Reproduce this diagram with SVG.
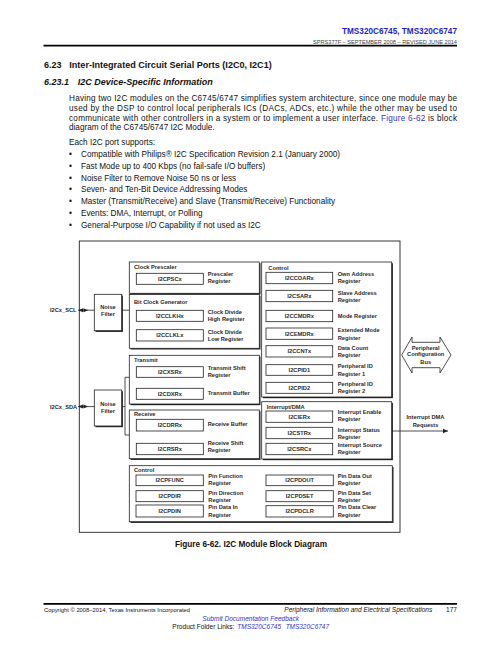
<svg xmlns="http://www.w3.org/2000/svg" width="502" height="649" viewBox="0 0 502 649">
<style>
  .body{font-family:"Liberation Sans",Arial,sans-serif;font-size:8.2px;fill:#111}
  .link{fill:#3333cc}
  .h{font-family:"Liberation Sans",Arial,sans-serif;font-weight:bold;fill:#111}
  .t{font-family:"Liberation Sans",Arial,sans-serif;font-weight:bold;font-size:5.7px;fill:#2a2a2a}
  .c{text-anchor:middle}
  .grp{fill:#fff;stroke:#222;stroke-width:0.8}
  .sh{fill:#222}
  .reg{fill:#fff;stroke:#222;stroke-width:0.8}
  .ln{fill:none;stroke:#222;stroke-width:0.8}
  .foot{font-family:"Liberation Sans",Arial,sans-serif;fill:#111}
</style>
<defs>
  <marker id="ah" markerWidth="6" markerHeight="6" refX="5" refY="3" orient="auto" markerUnits="userSpaceOnUse">
    <path d="M0,0.8 L5,3 L0,5.2 Z" fill="#222"/>
  </marker>
</defs>
<rect width="502" height="649" fill="#fff"/>

<!-- page header -->
<text x="457" y="33.6" class="h" font-size="9.4" text-anchor="end" style="fill:#1e1ecf" textLength="115" lengthAdjust="spacingAndGlyphs">TMS320C6745, TMS320C6747</text>
<text x="457" y="43.8" class="foot" font-size="5.2" text-anchor="end" textLength="144" lengthAdjust="spacingAndGlyphs" style="fill:#444">SPRS377F – SEPTEMBER 2008 – REVISED JUNE 2014</text>
<line x1="43.5" y1="45.6" x2="457" y2="45.6" stroke="#000" stroke-width="1.7"/>

<!-- headings -->
<text x="44" y="68.4" class="h" font-size="9">6.23</text>
<text x="69.3" y="68.4" class="h" font-size="9" textLength="202.4" lengthAdjust="spacingAndGlyphs">Inter-Integrated Circuit Serial Ports (I2C0, I2C1)</text>
<text x="44" y="85.4" class="h" font-size="9" font-style="italic">6.23.1</text>
<text x="77.7" y="85.4" class="h" font-size="9" font-style="italic" textLength="135" lengthAdjust="spacingAndGlyphs">I2C Device-Specific Information</text>

<!-- paragraph -->
<text x="69" y="101.3" class="body" textLength="388" lengthAdjust="spacing">Having two I2C modules on the C6745/6747 simplifies system architecture, since one module may be</text>
<text x="69" y="111.3" class="body" textLength="388" lengthAdjust="spacing">used by the DSP to control local peripherals ICs (DACs, ADCs, etc.) while the other may be used to</text>
<text x="69" y="121.3" class="body" textLength="388" lengthAdjust="spacing">communicate with other controllers in a system or to implement a user interface. <tspan class="link">Figure 6-62</tspan> is block</text>
<text x="69" y="130.3" class="body">diagram of the C6745/6747 I2C Module.</text>

<text x="69" y="145.3" class="body">Each I2C port supports:</text>
<g class="body">
  <text x="69" y="157.3">•</text><text x="81" y="157.3" class="body">Compatible with Philips® I2C Specification Revision 2.1 (January 2000)</text>
  <text x="69" y="169">•</text><text x="81" y="169" class="body">Fast Mode up to 400 Kbps (no fail-safe I/O buffers)</text>
  <text x="69" y="181">•</text><text x="81" y="181" class="body">Noise Filter to Remove Noise 50 ns or less</text>
  <text x="69" y="192.3">•</text><text x="81" y="192.3" class="body">Seven- and Ten-Bit Device Addressing Modes</text>
  <text x="69" y="204.3">•</text><text x="81" y="204.3" class="body">Master (Transmit/Receive) and Slave (Transmit/Receive) Functionality</text>
  <text x="69" y="216">•</text><text x="81" y="216" class="body">Events: DMA, Interrupt, or Polling</text>
  <text x="69" y="228.3">•</text><text x="81" y="228.3" class="body">General-Purpose I/O Capability if not used as I2C</text>
</g>

<!-- diagram -->
<g id="module">
  <rect x="79.3" y="241" width="320.7" height="291.3" fill="none" stroke="#222" stroke-width="0.9"/>
</g>

<g id="connectors">
  <line class="ln" x1="78" y1="310.2" x2="94.3" y2="310.2"/>
  <path d="M78.2,310.2 L83,308.2 L83,312.2 Z M88.2,310.2 L83.4,308.2 L83.4,312.2 Z" fill="#222"/>
  <line class="ln" x1="121.7" y1="310.2" x2="129.3" y2="310.2"/>
  <line class="ln" x1="78" y1="406.6" x2="94.3" y2="406.6"/>
  <path d="M78.2,406.6 L83,404.6 L83,408.6 Z M88.2,406.6 L83.4,404.6 L83.4,408.6 Z" fill="#222"/>
  <path class="ln" d="M121.7,406.6 H125 M129.3,377.3 H125 V435 H129.3"/>
  <line class="ln" x1="391.7" y1="431" x2="448" y2="431" marker-end="url(#ah)"/>
  <polygon points="170,377.3 176.5,382.7 174,382.7 174,388.3 166,388.3 166,382.7 163.5,382.7" fill="#fff" stroke="#222" stroke-width="0.7"/>
  <polygon points="170,431 176.5,436.4 174,436.4 174,443.3 166,443.3 166,436.4 163.5,436.4" fill="#fff" stroke="#222" stroke-width="0.7"/>
</g>

<g id="pins">
  <text x="50" y="312.3" class="t">I2Cx_SCL</text>
  <text x="50" y="408.7" class="t">I2Cx_SDA</text>
</g>

<g id="noise-filter-scl">
  <rect class="sh" x="95.5" y="295.5" width="27.4" height="36.4"/>
  <rect class="grp" x="94.3" y="294.3" width="27.4" height="36.4"/>
  <text x="108" y="308.8" class="t c">Noise</text>
  <text x="108" y="316.4" class="t c">Filter</text>
</g>
<g id="noise-filter-sda">
  <rect class="sh" x="95.5" y="391.2" width="27.4" height="36"/>
  <rect class="grp" x="94.3" y="390" width="27.4" height="36"/>
  <text x="108" y="406.1" class="t c">Noise</text>
  <text x="108" y="413.4" class="t c">Filter</text>
</g>

<g id="clock-prescaler">
  <rect class="sh" x="130.5" y="263.2" width="130" height="31.3"/>
  <rect class="grp" x="129.3" y="262" width="130" height="31.3"/>
  <text x="134" y="269" class="t">Clock Prescaler</text>
  <rect class="reg" x="136.3" y="273.3" width="67" height="11"/>
  <text x="169.8" y="280.8" class="t c">I2CPSCx</text>
  <text x="207.7" y="276" class="t">Prescaler</text>
  <text x="207.7" y="283.3" class="t">Register</text>
</g>

<g id="bit-clock-generator">
  <rect class="sh" x="130.5" y="295.7" width="130" height="53.8"/>
  <rect class="grp" x="129.3" y="294.5" width="130" height="53.8"/>
  <text x="134" y="304" class="t">Bit Clock Generator</text>
  <rect class="reg" x="136.3" y="310.3" width="67" height="11"/>
  <text x="169.8" y="317.8" class="t c">I2CCLKHx</text>
  <text x="207.7" y="314" class="t">Clock Divide</text>
  <text x="207.7" y="321.2" class="t">High Register</text>
  <rect class="reg" x="136.3" y="329.7" width="67" height="11.3"/>
  <text x="169.8" y="337.4" class="t c">I2CCLKLx</text>
  <text x="207.7" y="334" class="t">Clock Divide</text>
  <text x="207.7" y="341.2" class="t">Low Register</text>
</g>

<g id="transmit">
  <rect class="sh" x="130.5" y="356.5" width="130" height="48.7"/>
  <rect class="grp" x="129.3" y="355.3" width="130" height="48.7"/>
  <text x="134" y="362" class="t">Transmit</text>
  <rect class="reg" x="136.3" y="366.7" width="67" height="10.6"/>
  <text x="169.8" y="374" class="t c">I2CXSRx</text>
  <text x="207.7" y="369.8" class="t">Transmit Shift</text>
  <text x="207.7" y="377.1" class="t">Register</text>
  <rect class="reg" x="136.3" y="388.3" width="67" height="11"/>
  <text x="169.8" y="395.8" class="t c">I2CDXRx</text>
  <text x="207.7" y="395.4" class="t">Transmit Buffer</text>
</g>

<g id="receive">
  <rect class="sh" x="130.5" y="411.2" width="130" height="48.7"/>
  <rect class="grp" x="129.3" y="410" width="130" height="48.7"/>
  <text x="134" y="416.2" class="t">Receive</text>
  <rect class="reg" x="136.3" y="419.3" width="67" height="11.7"/>
  <text x="169.8" y="427.2" class="t c">I2CDRRx</text>
  <text x="207.7" y="426.1" class="t">Receive Buffer</text>
  <rect class="reg" x="136.3" y="443.3" width="67" height="11.4"/>
  <text x="169.8" y="451" class="t c">I2CRSRx</text>
  <text x="207.7" y="445.1" class="t">Receive Shift</text>
  <text x="207.7" y="452.2" class="t">Register</text>
</g>

<g id="control-registers">
  <rect class="sh" x="262.9" y="263.2" width="130" height="135"/>
  <rect class="grp" x="261.7" y="262" width="130" height="135"/>
  <text x="268.3" y="269.7" class="t">Control</text>
  <rect class="reg" x="266" y="272.3" width="66.7" height="11.4"/>
  <text x="299.3" y="280" class="t c">I2CCOARx</text>
  <text x="337.7" y="276" class="t">Own Address</text>
  <text x="337.7" y="283.3" class="t">Register</text>
  <rect class="reg" x="266" y="290.3" width="66.7" height="11.4"/>
  <text x="299.3" y="298" class="t c">I2CSARx</text>
  <text x="337.7" y="294.7" class="t">Slave Address</text>
  <text x="337.7" y="302.3" class="t">Register</text>
  <rect class="reg" x="266" y="310.3" width="66.7" height="11.4"/>
  <text x="299.3" y="318" class="t c">I2CCMDRx</text>
  <text x="337.7" y="318" class="t">Mode Register</text>
  <rect class="reg" x="266" y="328" width="66.7" height="11.3"/>
  <text x="299.3" y="335.7" class="t c">I2CEMDRx</text>
  <text x="337.7" y="332" class="t">Extended Mode</text>
  <text x="337.7" y="339.7" class="t">Register</text>
  <rect class="reg" x="266" y="345.7" width="66.7" height="11.3"/>
  <text x="299.3" y="353.4" class="t c">I2CCNTx</text>
  <text x="337.7" y="350" class="t">Data Count</text>
  <text x="337.7" y="357.3" class="t">Register</text>
  <rect class="reg" x="266" y="364.7" width="66.7" height="10.6"/>
  <text x="299.3" y="372" class="t c">I2CPID1</text>
  <text x="337.7" y="368" class="t">Peripheral ID</text>
  <text x="337.7" y="376" class="t">Register 1</text>
  <rect class="reg" x="266" y="382.3" width="66.7" height="11"/>
  <text x="299.3" y="389.8" class="t c">I2CPID2</text>
  <text x="337.7" y="386" class="t">Peripheral ID</text>
  <text x="337.7" y="393" class="t">Register 2</text>
</g>

<g id="interrupt-dma">
  <rect class="sh" x="262.9" y="402.9" width="130" height="57.3"/>
  <rect class="grp" x="261.7" y="401.7" width="130" height="57.3"/>
  <text x="266.7" y="409.3" class="t">Interrupt/DMA</text>
  <rect class="reg" x="266" y="411" width="66.7" height="11.3"/>
  <text x="299.3" y="418.7" class="t c">I2CIERx</text>
  <text x="337.7" y="414.3" class="t">Interrupt Enable</text>
  <text x="337.7" y="421.3" class="t">Register</text>
  <rect class="reg" x="266" y="427.3" width="66.7" height="11.4"/>
  <text x="299.3" y="435" class="t c">I2CSTRx</text>
  <text x="337.7" y="432" class="t">Interrupt Status</text>
  <text x="337.7" y="439" class="t">Register</text>
  <rect class="reg" x="266" y="443.3" width="66.7" height="11.4"/>
  <text x="299.3" y="451" class="t c">I2CSRCx</text>
  <text x="337.7" y="447" class="t">Interrupt Source</text>
  <text x="337.7" y="454" class="t">Register</text>
</g>

<g id="pin-control">
  <rect class="sh" x="130.5" y="466.9" width="263" height="56"/>
  <rect class="grp" x="129.3" y="465.7" width="263" height="56"/>
  <text x="134" y="472" class="t">Control</text>
  <rect class="reg" x="136" y="475" width="67.3" height="10.7"/>
  <text x="169.7" y="482.4" class="t c">I2CPFUNC</text>
  <text x="208.3" y="478" class="t">Pin Function</text>
  <text x="208.3" y="485.3" class="t">Register</text>
  <rect class="reg" x="136" y="490.7" width="67.3" height="11"/>
  <text x="169.7" y="498.2" class="t c">I2CPDIR</text>
  <text x="208.3" y="495" class="t">Pin Direction</text>
  <text x="208.3" y="502" class="t">Register</text>
  <rect class="reg" x="136" y="505" width="67.3" height="12"/>
  <text x="169.7" y="513" class="t c">I2CPDIN</text>
  <text x="208.3" y="509.3" class="t">Pin Data In</text>
  <text x="208.3" y="517.3" class="t">Register</text>
  <rect class="reg" x="266" y="475" width="67.3" height="10.7"/>
  <text x="299.7" y="482.4" class="t c">I2CPDOUT</text>
  <text x="337.7" y="478" class="t">Pin Data Out</text>
  <text x="337.7" y="485.3" class="t">Register</text>
  <rect class="reg" x="266" y="490.7" width="67.3" height="11"/>
  <text x="299.7" y="498.2" class="t c">I2CPDSET</text>
  <text x="337.7" y="495" class="t">Pin Data Set</text>
  <text x="337.7" y="502" class="t">Register</text>
  <rect class="reg" x="266" y="505.7" width="67.3" height="11.3"/>
  <text x="299.7" y="513.4" class="t c">I2CPDCLR</text>
  <text x="337.7" y="509.3" class="t">Pin Data Clear</text>
  <text x="337.7" y="517.3" class="t">Register</text>
</g>

<g id="peripheral-configuration-bus">
  <polygon points="401.7,355 412,337 412,342.3 440,342.3 440,337 451,355 440,373 440,367.7 412,367.7 412,373" fill="#fff" stroke="#222" stroke-width="0.8"/>
  <text x="425.7" y="350" class="t c">Peripheral</text>
  <text x="425.7" y="356.4" class="t c">Configuration</text>
  <text x="425.7" y="363.8" class="t c">Bus</text>
</g>

<g id="interrupt-dma-requests">
  <text x="425.5" y="419.4" class="t c">Interrupt DMA</text>
  <text x="425.5" y="427" class="t c">Requests</text>
</g>

<text x="251" y="546.6" class="h c" font-size="9" textLength="152" lengthAdjust="spacingAndGlyphs">Figure 6-62. I2C Module Block Diagram</text>

<!-- footer -->
<line x1="43.5" y1="603.8" x2="457" y2="603.8" stroke="#000" stroke-width="1.8"/>
<text x="44" y="612" class="foot" font-size="5.3" textLength="146" lengthAdjust="spacingAndGlyphs">Copyright © 2008–2014, Texas Instruments Incorporated</text>
<text x="284.3" y="612.2" class="foot" font-size="6.6" font-style="italic" textLength="148" lengthAdjust="spacingAndGlyphs">Peripheral Information and Electrical Specifications</text>
<text x="457" y="612.2" class="foot" font-size="6.6" text-anchor="end">177</text>
<text x="202.3" y="621" class="foot" font-size="6.6" font-style="italic" style="fill:#3333cc" textLength="96.7" lengthAdjust="spacingAndGlyphs">Submit Documentation Feedback</text>
<text x="172.3" y="629" class="foot" font-size="6.6" textLength="62" lengthAdjust="spacingAndGlyphs">Product Folder Links:</text>
<text x="237.3" y="629" class="foot" font-size="6.6" font-style="italic" style="fill:#3333cc" textLength="43.7" lengthAdjust="spacingAndGlyphs">TMS320C6745</text>
<text x="285.7" y="629" class="foot" font-size="6.6" font-style="italic" style="fill:#3333cc" textLength="43.3" lengthAdjust="spacingAndGlyphs">TMS320C6747</text>
</svg>
